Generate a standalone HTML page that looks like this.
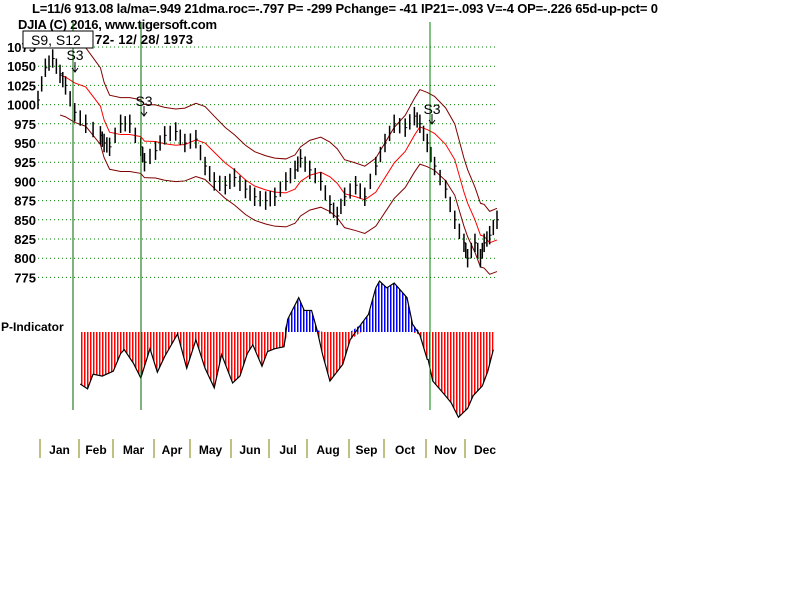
<!DOCTYPE html>
<html><head><meta charset="utf-8"><style>
body{margin:0;background:#fff;width:800px;height:600px;overflow:hidden}
svg{display:block;font-family:"Liberation Sans",Arial,sans-serif}
</style></head><body>
<svg id="c" width="800" height="600">
<text x="32" y="13" font-size="13" font-weight="bold" textLength="626" lengthAdjust="spacing">L=11/6  913.08  la/ma=.949 21dma.roc=-.797 P= -299 Pchange= -41 IP21=-.093 V=-4 OP=-.226 65d-up-pct= 0</text>
<text x="18" y="29" font-size="13" font-weight="bold" textLength="199" lengthAdjust="spacing">DJIA   (C) 2016, www.tigersoft.com</text>
<text x="95" y="44" font-size="13" font-weight="bold" textLength="98" lengthAdjust="spacing">72- 12/ 28/ 1973</text>
<g id="grid"></g><g id="bands"></g><g id="bars"></g><g id="pind"></g><g id="months"></g>
<rect x="23" y="31" width="70" height="17" fill="#fff" stroke="#000"/>
<text x="31" y="45" font-size="14">S9, S12</text>
<text x="1" y="331" font-size="12" font-weight="bold">P-Indicator</text>
</svg>
<script>
const NS="http://www.w3.org/2000/svg";
const days=[0,4,8,12,15,20,26,34,36,39,45,50,56,58,64,69,75,80,86,91,96,102,107,113,118,124,129,135,140,143,148,154,159,163,167,173,178,184,189,194,200,205,208,212,216,222,227,232,234,238,241,243,246,250];
const closes=[1006,1048,1060,1040,1025,990,975,960,950,945,975,975,945,925,940,960,965,950,955,920,900,895,905,890,880,875,880,900,915,930,915,900,870,855,880,895,880,920,950,975,970,985,975,950,920,890,850,820,800,820,800,820,830,850];
const yTicks=[1075,1050,1025,1000,975,950,925,900,875,850,825,800,775];
const pDays=[23,27,30,35,41,45,47,52,56,61,65,69,76,81,86,91,96,100,106,110,114,117,122,125,129,134,136,142,145,149,152,155,159,166,170,176,180,184,186,190,194,201,204,208,212,212.5,215,221,225,229,234,237,242,245,248];
const pVals=[-53,-58,-43,-45,-40,-22,-18,-32,-47,-17,-41,-25,-2,-37,-8,-37,-57,-23,-52,-45,-22,-13,-35,-20,-17,-15,13,35,22,22,2,-23,-50,-33,-8,8,18,45,52,45,50,35,8,-3,-28,-28,-50,-63,-72,-87,-78,-65,-55,-40,-18];
const months=["Jan","Feb","Mar","Apr","May","Jun","Jul","Aug","Sep","Oct","Nov","Dec"];
const monthX=[40,79,113,154,190,231,269,307,349,384,426,465];
const xs=d=>38+d*1.836;
const ys=v=>47+(1075-v)*19.2/25;
const yp=v=>332-v*0.98;
function el(t,a,p){const e=document.createElementNS(NS,t);for(const k in a)e.setAttribute(k,a[k]);(p||document.getElementById('c')).appendChild(e);return e;}
const grid=document.getElementById('grid');
yTicks.forEach(v=>{
 const l=el('line',{x1:38,x2:497,y1:ys(v),y2:ys(v),stroke:'#008000','stroke-dasharray':'1,3'},grid);
 
 
 const t=el('text',{x:36,y:ys(v)+5,'text-anchor':'end','font-size':13,'font-weight':'bold'},grid);
 t.textContent=v;
 
 
});
// 21-day moving average (by day window) + bands
const ma=days.map((d,i)=>{let s=0,n=0;days.forEach((d2,j)=>{if(d2<=d&&d2>d-24){s+=closes[j];n++;}});return s/n;});
const bands=document.getElementById('bands');
[[1.05,'#800000','upper-band'],[1,'#ff0000','moving-average'],[0.95,'#800000','lower-band']].forEach(([f,col,nm])=>{
 const pts=ma.map((m,i)=>i<3?null:xs(days[i])+','+ys(m*f)).filter(p=>p).join(' ');
 const p=el('polyline',{points:pts,fill:'none',stroke:col,'stroke-width':1},bands);
 
 
});
const bars=document.getElementById('bars');
closes.forEach((c,i)=>{
 const x=xs(days[i]);
 const b=el('line',{x1:x,x2:x,y1:ys(c+12),y2:ys(c-12),stroke:'#000','stroke-width':1.5},bars);
 
 
 const t=el('line',{x1:x,x2:x+2,y1:ys(c),y2:ys(c),stroke:'#000'},bars);
 
 
 if(i+1<closes.length){const x2=(x+xs(days[i+1]))/2,c2=(c+closes[i+1])/2;
 const b2=el('line',{x1:x2,x2:x2,y1:ys(c2+10),y2:ys(c2-10),stroke:'#000','stroke-width':1.5},bars);
 
 }
});
const pg=document.getElementById('pind');
const defs=el('defs',{},pg);
[['sr','#ff0000'],['sb','#0000ff']].forEach(([id,col])=>{
 const pat=el('pattern',{id:id,width:3,height:10,patternUnits:'userSpaceOnUse'},defs);
 el('rect',{x:0,y:0,width:1.5,height:10,fill:col},pat);
});
const x0=xs(pDays[0]),x1=xs(pDays[pDays.length-1]);
const neg=pVals.map((v,i)=>xs(pDays[i])+','+yp(Math.min(v,0))).join(' ');
const pos=pVals.map((v,i)=>xs(pDays[i])+','+yp(Math.max(v,0))).join(' ');
const a1=el('polygon',{points:x0+','+yp(0)+' '+neg+' '+x1+','+yp(0),fill:'url(#sr)'},pg);


const a2=el('polygon',{points:x0+','+yp(0)+' '+pos+' '+x1+','+yp(0),fill:'url(#sb)'},pg);


const pl=el('polyline',{points:pVals.map((v,i)=>xs(pDays[i])+','+yp(v)).join(' '),fill:'none',stroke:'#000','stroke-width':1.2},pg);


[[73,'#006400'],[141,'#006400'],[430,'#008000']].forEach(([x,col],i)=>{
 const l=el('line',{x1:x,x2:x,y1:22,y2:410,stroke:col},pg);
 
 
});
[[75,62,53],[144,106,99],[432,114,107]].forEach(([x,ay,ty],i)=>{
 const t=el('text',{x:x,y:ty+7,'text-anchor':'middle','font-size':14},pg);
 t.textContent='S3';
 
 
 const a=el('path',{d:`M${x} ${ay} v10 M${x-3} ${ay+6} L${x} ${ay+10} L${x+3} ${ay+6}`,stroke:'#000',fill:'none'},pg);
 
 
});
const mg=document.getElementById('months');
months.forEach((m,i)=>{
 const t=el('line',{x1:monthX[i],x2:monthX[i],y1:439,y2:458,stroke:'#808000'},mg);
 
 
 const nx=i<11?monthX[i+1]:505;
 const tx=el('text',{x:(monthX[i]+nx)/2,y:454,'text-anchor':'middle','font-size':12,'font-weight':'bold'},mg);
 tx.textContent=m;
 
 
});
</script>
</body></html>
